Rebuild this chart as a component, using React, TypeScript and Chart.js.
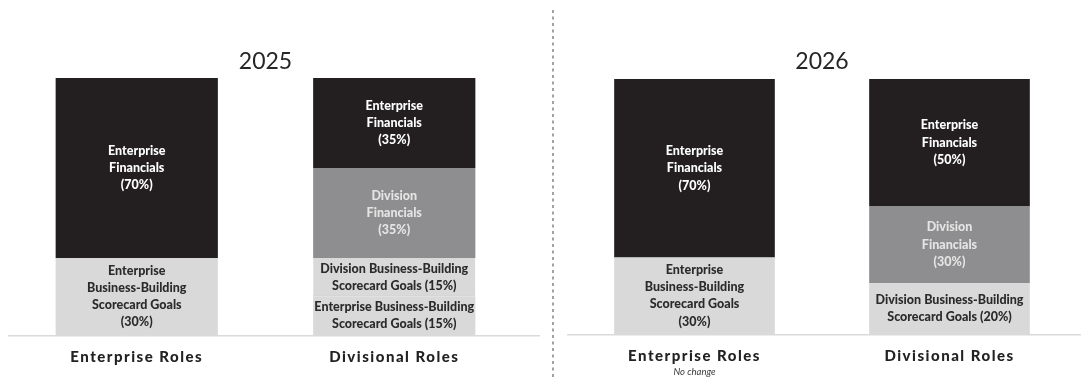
import React, { useEffect, useRef } from "react";
import { Chart, registerables } from "chart.js";

Chart.register(...registerables);

// ---------- data ----------
const CATEGORIES = ["Enterprise Roles", "Divisional Roles"];
const YEARS = ["2025", "2026"];
const NOTES_2025 = ["", ""];
const NOTES_2026 = ["No change", ""];

const SERIES = [
  "Enterprise Business-Building Scorecard Goals",
  "Division Business-Building Scorecard Goals",
  "Division Financials",
  "Enterprise Financials",
];

const ENT_BB_2025 = [30, 15];
const DIV_BB_2025 = [0, 15];
const DIV_FIN_2025 = [0, 35];
const ENT_FIN_2025 = [70, 35];

const ENT_BB_2026 = [30, 0];
const DIV_BB_2026 = [0, 20];
const DIV_FIN_2026 = [0, 30];
const ENT_FIN_2026 = [70, 50];

const ENT_BB_TEXT = [
  ["Enterprise", "Business-Building", "Scorecard Goals", "({v}%)"],
  ["Enterprise Business-Building", "Scorecard Goals ({v}%)"],
];
const DIV_BB_TEXT = [
  ["Division Business-Building", "Scorecard Goals ({v}%)"],
  ["Division Business-Building", "Scorecard Goals ({v}%)"],
];
const DIV_FIN_TEXT = [
  ["Division", "Financials", "({v}%)"],
  ["Division", "Financials", "({v}%)"],
];
const ENT_FIN_TEXT = [
  ["Enterprise", "Financials", "({v}%)"],
  ["Enterprise", "Financials", "({v}%)"],
];

const SERIES_COLORS = ["#d9d9d9", "#d9d9d9", "#8e8e90", "#231f20"];
const TEXT_COLORS = ["#2b2b2b", "#2b2b2b", "#e4e4e4", "#ffffff"];
const SEGMENT_TEXTS = [ENT_BB_TEXT, DIV_BB_TEXT, DIV_FIN_TEXT, ENT_FIN_TEXT];

const FONT = "Lato, 'Open Sans', sans-serif";

type Panel = {
  year: string;
  values: number[][];
  notes: string[];
  width: number;
  pad: { left: number; right: number; top: number };
  axisHeight: number;
  separatorX: number | null;
};

const PANELS: Panel[] = [
  {
    year: YEARS[0],
    values: [ENT_BB_2025, DIV_BB_2025, DIV_FIN_2025, ENT_FIN_2025],
    notes: NOTES_2025,
    width: 540,
    pad: { left: 8, right: 17, top: 78 },
    axisHeight: 42,
    separatorX: null,
  },
  {
    year: YEARS[1],
    values: [ENT_BB_2026, DIV_BB_2026, DIV_FIN_2026, ENT_FIN_2026],
    notes: NOTES_2026,
    width: 541,
    pad: { left: 27, right: 4, top: 79 },
    axisHeight: 43,
    separatorX: 13,
  },
];

function PanelChart({ panel }: { panel: Panel }) {
  const ref = useRef<HTMLCanvasElement | null>(null);

  useEffect(() => {
    if (!ref.current) return;
    const vals = panel.values;

    const decor = {
      id: "decor",
      beforeDraw(chart: any) {
        const ctx = chart.ctx;
        const a = chart.chartArea;
        ctx.save();
        // baseline
        ctx.strokeStyle = "#dadada";
        ctx.lineWidth = 1.5;
        ctx.beginPath();
        ctx.moveTo(a.left, a.bottom + 0.75);
        ctx.lineTo(chart.width, a.bottom + 0.75);
        ctx.stroke();
        ctx.restore();
        // letter spacing for the axis labels
        (ctx as any).letterSpacing = "1.5px";
      },
      afterDatasetsDraw(chart: any) {
        const ctx = chart.ctx;
        (ctx as any).letterSpacing = "0px";
        ctx.save();
        ctx.font = `900 12.5px ${FONT}`;
        ctx.textAlign = "center";
        ctx.textBaseline = "middle";
        const lh = 17.3;
        chart.data.datasets.forEach((ds: any, i: number) => {
          const meta = chart.getDatasetMeta(i);
          meta.data.forEach((el: any, j: number) => {
            const v = ds.data[j];
            if (!v) return;
            const lines = SEGMENT_TEXTS[i][j].map((s: string) => s.replace("{v}", String(v)));
            const cy = (el.y + el.base) / 2;
            const y0 = cy - ((lines.length - 1) * lh) / 2;
            ctx.fillStyle = TEXT_COLORS[i];
            lines.forEach((ln: string, k: number) => ctx.fillText(ln, el.x, y0 + k * lh));
          });
        });
        ctx.restore();
      },
      afterDraw(chart: any) {
        const ctx = chart.ctx;
        const a = chart.chartArea;
        (ctx as any).letterSpacing = "0px";
        ctx.save();
        // title
        ctx.font = `23px ${FONT}`;
        ctx.fillStyle = "#262626";
        ctx.textAlign = "center";
        ctx.textBaseline = "alphabetic";
        ctx.fillText(panel.year, (a.left + a.right) / 2, 68.5);
        // notes under category labels
        ctx.font = `italic 9.5px ${FONT}`;
        ctx.fillStyle = "#3a3a3a";
        ctx.textBaseline = "middle";
        const xs = chart.scales.x;
        panel.notes.forEach((n, j) => {
          if (n) ctx.fillText(n, xs.getPixelForValue(j), 371.5);
        });
        // dashed separator
        if (panel.separatorX !== null) {
          ctx.strokeStyle = "#8a8a8a";
          ctx.lineWidth = 1.6;
          ctx.setLineDash([3, 3.5]);
          ctx.beginPath();
          ctx.moveTo(panel.separatorX, 10);
          ctx.lineTo(panel.separatorX, chart.height);
          ctx.stroke();
        }
        ctx.restore();
      },
    };

    const chart = new Chart(ref.current, {
      type: "bar",
      data: {
        labels: CATEGORIES,
        datasets: SERIES.map((name, i) => ({
          label: name,
          data: vals[i],
          backgroundColor: SERIES_COLORS[i],
          borderColor: "#a8a8a8",
          borderSkipped: false,
          borderWidth:
            i === 1
              ? (c: any) =>
                  vals[0][c.dataIndex] > 0 && vals[1][c.dataIndex] > 0
                    ? { top: 0, left: 0, right: 0, bottom: 1 }
                    : 0
              : 0,
          barPercentage: 1,
          categoryPercentage: 0.63,
        })),
      },
      options: {
        responsive: false,
        animation: false,
        devicePixelRatio: 1,
        layout: {
          padding: { left: panel.pad.left, right: panel.pad.right, top: panel.pad.top, bottom: 0 },
        },
        plugins: {
          legend: { display: false },
          title: { display: false },
          tooltip: { enabled: false },
        },
        scales: {
          x: {
            stacked: true,
            grid: { display: false, drawTicks: false },
            border: { display: false },
            ticks: {
              padding: 13,
              color: "#222222",
              font: { family: FONT, weight: "900", size: 15 },
              maxRotation: 0,
            },
            afterFit: (s: any) => {
              s.height = panel.axisHeight;
            },
          },
          y: {
            stacked: true,
            display: false,
            min: 0,
            max: 100,
          },
        },
      },
      plugins: [decor],
    } as any);

    return () => chart.destroy();
  }, [panel]);

  return (
    <canvas
      ref={ref}
      width={panel.width}
      height={377}
      style={{ display: "block", width: panel.width, height: 377 }}
    />
  );
}

export default function App() {
  return (
    <div
      style={{
        position: "absolute",
        left: 0,
        top: 0,
        width: 1081,
        height: 377,
        display: "flex",
        background: "#ffffff",
      }}
    >
      {PANELS.map((p) => (
        <PanelChart key={p.year} panel={p} />
      ))}
    </div>
  );
}
